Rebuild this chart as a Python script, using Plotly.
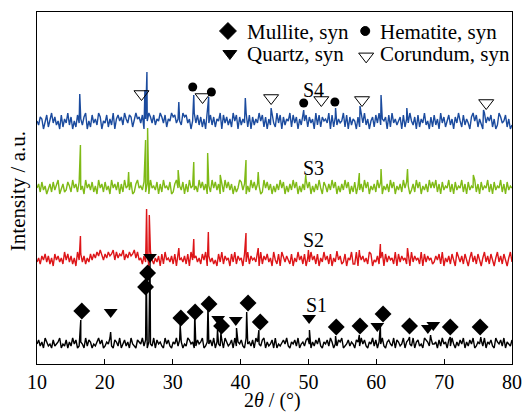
import numpy as np
import plotly.graph_objects as go

# ---- axis ----
TWO_THETA_RANGE = [10, 80]
X_TICKS = [10, 20, 30, 40, 50, 60, 70, 80]
INTENSITY_RANGE = [0, 352]
NOISE_STEP = 2.0  # a.u. per noise digit

# ---- S1 ----
S1_BASE = 21
S1_NOISE = (
    "4635275342634572436253746235427365243574623547326"
    "5372463527432654736254372645327463254736524376452"
    "3645723546372543627534627354632745362754367253462"
    "7243564732546372453674253647325463752436572346354"
    "2653746325473625473256437265347256437256342765374"
    "4526374526374253647253647235463725463275463725436"
)
S1_PEAK_ANGLE = [16.45, 20.85, 26.1, 26.65, 31.1, 33.25, 35.2, 36.6, 37.1, 39.4,
                 40.9, 42.7, 50.15, 54.0, 57.5, 60.6, 64.9, 68.0, 70.9, 75.4]
S1_PEAK_HEIGHT = [23, 11, 73, 87, 18, 30, 38, 13, 10, 15,
                  31, 13, 13, 7, 8, 18, 6, 8, 6, 6]

# ---- S2 ----
S2_BASE = 105
S2_NOISE = (
    "3526473625174635284736251847362537475869647586794"
    "8576947586795845263718425361728453627184536271845"
    "6352748163524173826451738264517382645371826473518"
    "4271853642715384627153846271538462715384623715482"
    "2817463528714362581736452817364527183645281736452"
    "3647281536274185362741583627415836274158362741583"
)
S2_PEAK_ANGLE = [16.4, 22.7, 26.15, 26.55, 30.9, 33.1, 35.25, 40.8, 42.6, 50.0,
                 54.2, 57.5, 60.6, 64.6]
S2_PEAK_HEIGHT = [23, 9, 50, 44, 11, 20, 27, 26, 11, 9,
                  8, 9, 15, 11]

# ---- S3 ----
S3_BASE = 177
S3_NOISE = (
    "4627351462735814623752846273518463725184627351846"
    "3716284537126845372618453716284537126845371628453"
    "5284736152847361528473615248736152847365128473615"
    "2638471526384715263847152638417526384715263847152"
    "7153628471536284715362847153628475136284715362847"
    "4826173548261735482617354826173548261735482617354"
)
S3_PEAK_ANGLE = [16.4, 23.5, 26.0, 26.3, 30.8, 33.1, 35.15, 37.0, 40.8, 42.6,
                 49.6, 57.5, 60.7, 64.6, 74.3]
S3_PEAK_HEIGHT = [42, 15, 47, 59, 17, 25, 34, 12, 27, 15,
                  12, 14, 18, 18, 12]

# ---- S4 ----
S4_BASE = 242
S4_NOISE = (
    "5376148269473518264937152846379152846397154826391"
    "6857396487259674816597483659748265978465397846159"
    "4837261948372659184736295817364928173649582716394"
    "2948173659284716395827461938275649182736459281736"
    "5172849361572849365718294635718264953718264935172"
    "8361947258361749528364179582631947582613974582613"
)
S4_PEAK_ANGLE = [16.3, 25.9, 26.2, 30.9, 33.1, 35.3, 40.7, 44.5, 49.3, 54.0,
                 57.6, 60.7, 64.5, 75.8]
S4_PEAK_HEIGHT = [28, 32, 50, 20, 27, 25, 24, 14, 12, 14,
                  16, 27, 14, 12]

# ---- phase marks ----
MULLITE_ANGLE = [16.6, 26.0, 26.3, 31.2, 33.3, 35.35, 37.2, 41.1, 42.9, 54.1,
                 57.6, 61.0, 64.9, 70.9, 75.3]
MULLITE_LEVEL = [53, 77, 91, 46, 52, 60, 38, 61, 42, 37,
                 38, 50, 38, 37, 37]
QUARTZ_ANGLE = [20.86, 26.65, 36.7, 39.3, 50.1, 60.15, 67.6, 68.4]
QUARTZ_LEVEL = [52, 107, 45, 44, 46, 38, 36, 39]
HEMATITE_ANGLE = [32.95, 35.7, 49.3, 53.9]
HEMATITE_LEVEL = [277, 272, 261, 262]
CORUNDUM_ANGLE = [25.4, 34.4, 44.5, 51.9, 57.9, 76.2]
CORUNDUM_LEVEL = [270, 267, 266, 264, 264, 261]

SAMPLE_NAMES = ["S1", "S2", "S3", "S4"]
SAMPLE_LABEL_ANGLE = [51.2, 50.7, 50.7, 50.7]
SAMPLE_LABEL_LEVEL = [59, 124, 196, 274]

PHASE_NAMES = ["Mullite, syn", "Hematite, syn", "Quartz, syn", "Corundum, syn"]

COLORS = {"S1": "#000000", "S2": "#dd1518", "S3": "#7fba16", "S4": "#1b4b9e"}
SERIF = "Liberation Serif"


def pattern(base, noise, peak_angle, peak_height):
    digits = np.array([int(c) for c in noise], dtype=float)
    x = np.linspace(TWO_THETA_RANGE[0], TWO_THETA_RANGE[1], len(digits))
    y = base + (digits - 4.5) * NOISE_STEP
    x = np.concatenate([x, np.asarray(peak_angle, dtype=float)])
    y = np.concatenate([y, base + np.asarray(peak_height, dtype=float)])
    order = np.argsort(x, kind="stable")
    return x[order], y[order]


fig = go.Figure()

samples = [
    ("S1", S1_BASE, S1_NOISE, S1_PEAK_ANGLE, S1_PEAK_HEIGHT),
    ("S2", S2_BASE, S2_NOISE, S2_PEAK_ANGLE, S2_PEAK_HEIGHT),
    ("S3", S3_BASE, S3_NOISE, S3_PEAK_ANGLE, S3_PEAK_HEIGHT),
    ("S4", S4_BASE, S4_NOISE, S4_PEAK_ANGLE, S4_PEAK_HEIGHT),
]
for name, base, noise, pa, ph in samples:
    x, y = pattern(base, noise, pa, ph)
    fig.add_trace(go.Scatter(x=x, y=y, mode="lines", name=name,
                             line=dict(color=COLORS[name], width=1.4),
                             showlegend=False, hoverinfo="skip"))

fig.add_trace(go.Scatter(x=MULLITE_ANGLE, y=MULLITE_LEVEL, mode="markers",
                         marker=dict(symbol="diamond", size=13, color="black"),
                         showlegend=False))
fig.add_trace(go.Scatter(x=QUARTZ_ANGLE, y=QUARTZ_LEVEL, mode="markers",
                         marker=dict(symbol="triangle-down", size=12, color="black"),
                         showlegend=False))
fig.add_trace(go.Scatter(x=HEMATITE_ANGLE, y=HEMATITE_LEVEL, mode="markers",
                         marker=dict(symbol="circle", size=9, color="black"),
                         showlegend=False))
fig.add_trace(go.Scatter(x=CORUNDUM_ANGLE, y=CORUNDUM_LEVEL, mode="markers",
                         marker=dict(symbol="triangle-down-open", size=13, color="black",
                                     line=dict(width=1, color="black")),
                         showlegend=False))

# key symbols, placed on an overlay axis spanning the plot area in fractions
key_x = [0.402, 0.691, 0.406, 0.693]
key_y = [0.946, 0.946, 0.882, 0.874]
key_symbol = ["diamond", "circle", "triangle-down", "triangle-down-open"]
key_size = [13, 9, 12, 13]
for kx, ky, ks, kz in zip(key_x, key_y, key_symbol, key_size):
    fig.add_trace(go.Scatter(x=[kx], y=[ky], xaxis="x2", yaxis="y2", mode="markers",
                             marker=dict(symbol=ks, size=kz, color="black",
                                         line=dict(width=1, color="black")),
                             showlegend=False, hoverinfo="skip"))

annotations = []
key_text_x = [0.438, 0.718, 0.438, 0.718]
key_text_y = [0.944, 0.944, 0.880, 0.880]
for t, tx, ty in zip(PHASE_NAMES, key_text_x, key_text_y):
    annotations.append(dict(text=t, x=tx, y=ty, xref="paper", yref="paper",
                            xanchor="left", yanchor="middle", showarrow=False,
                            font=dict(family=SERIF, size=21, color="black")))

for name, ax_, ay_ in zip(SAMPLE_NAMES, SAMPLE_LABEL_ANGLE, SAMPLE_LABEL_LEVEL):
    annotations.append(dict(text=name, x=ax_, y=ay_, xref="x", yref="y",
                            xanchor="center", yanchor="middle", showarrow=False,
                            font=dict(family=SERIF, size=20, color="black")))

annotations.append(dict(text="2<i>θ</i> / (°)", x=0.495, y=-0.104, xref="paper", yref="paper",
                        xanchor="center", yanchor="middle", showarrow=False,
                        font=dict(family=SERIF, size=20, color="black")))
annotations.append(dict(text="Intensity / a.u.", x=-0.04, y=0.491, xref="paper", yref="paper",
                        xanchor="center", yanchor="middle", showarrow=False, textangle=-90,
                        font=dict(family=SERIF, size=21, color="black")))

fig.update_layout(
    template="none",
    width=525, height=414,
    margin=dict(l=37, r=13, t=12, b=50, autoexpand=False),
    paper_bgcolor="white", plot_bgcolor="white",
    showlegend=False,
    annotations=annotations,
    font=dict(family=SERIF, color="black"),
    xaxis=dict(range=TWO_THETA_RANGE, tickmode="array", tickvals=X_TICKS,
               ticks="inside", ticklen=5, tickwidth=1, tickcolor="black",
               showline=True, linecolor="black", linewidth=1.2, mirror=True,
               showgrid=False, zeroline=False, automargin=False,
               tickfont=dict(family=SERIF, size=20, color="black")),
    yaxis=dict(range=INTENSITY_RANGE, showticklabels=False, ticks="",
               showline=True, linecolor="black", linewidth=1.2, mirror=True,
               showgrid=False, zeroline=False, automargin=False),
    xaxis2=dict(range=[0, 1], overlaying="x", visible=False, automargin=False),
    yaxis2=dict(range=[0, 1], overlaying="y", visible=False, automargin=False),
)

fig.write_html("out.html")
